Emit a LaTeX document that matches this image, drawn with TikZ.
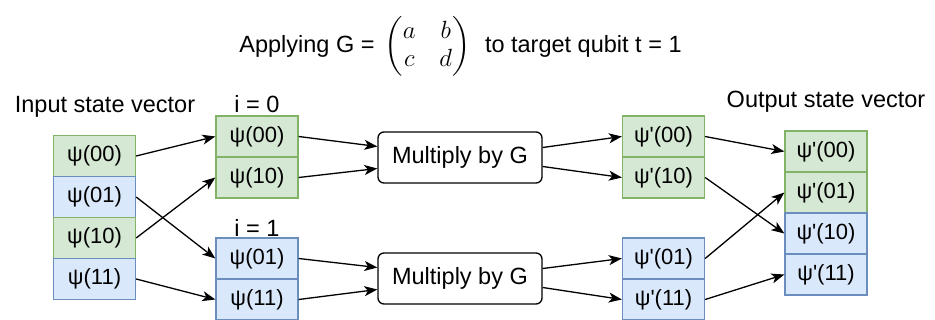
\documentclass[tikz,border=0pt]{standalone}
\usepackage{amsmath}
\usepackage{fontspec}
\newfontfamily\rawfont{Liberation Sans}
\usetikzlibrary{arrows.meta,calc}
\definecolor{gfill}{HTML}{D5E8D4}
\definecolor{gline}{HTML}{82B366}
\definecolor{bfill}{HTML}{DAE8FC}
\definecolor{bline}{HTML}{6C8EBF}
\tikzset{
  every node/.style={font=\rawfont\fontsize{23.5}{28}\selectfont},
  cell/.style={minimum width=82pt,minimum height=41pt,inner sep=0pt,line width=1.3pt,font=\rawfont\fontsize{22}{26}\selectfont},
  gcell/.style={cell,draw=gline,fill=gfill},
  bcell/.style={cell,draw=bline,fill=bfill},
  multbox/.style={draw,rounded corners=6pt,minimum width=164pt,minimum height=51pt,inner sep=0pt,line width=1.3pt},
  lbl/.style={inner sep=0pt,anchor=base},
  conn/.style={-{Stealth[length=13pt,width=10pt,inset=3.5pt]},line width=1.3pt}
}
\begin{document}
\begin{tikzpicture}[x=1pt,y=-1pt]
\useasboundingbox (0,0) rectangle (935,320);
% title
\node[lbl] (title) at (460.5,53) {Applying G =\hspace{10pt}$\begin{pmatrix}a & \;\; b\\ c & \;\; d\end{pmatrix}$\hspace{8pt} to target qubit t = 1};
% labels
\node[lbl] (inlbl) at (105,113) {Input state vector};
\node[lbl] (i0lbl) at (257,113) {i = 0};
\node[lbl] (i1lbl) at (257,237) {i = 1};
\node[lbl] (outlbl) at (826,108) {Output state vector};
% input
\node[gcell] (in00) at (94.5,156) {ψ(00)};
\node[bcell] (in01) at (94.5,197) {ψ(01)};
\node[gcell] (in10) at (94.5,238) {ψ(10)};
\node[bcell] (in11) at (94.5,279) {ψ(11)};
% groups
\node[gcell] (a00) at (257,136.5) {ψ(00)};
\node[gcell] (a10) at (257,177.5) {ψ(10)};
\node[bcell] (a01) at (257,258.5) {ψ(01)};
\node[bcell] (a11) at (257,299.5) {ψ(11)};
% multiply
\node[multbox] (m1) at (460,157.5) {Multiply by G};
\node[multbox] (m2) at (460,278.5) {Multiply by G};
% intermediate outputs
\node[gcell] (b00) at (663.5,136.5) {ψ'(00)};
\node[gcell] (b10) at (663.5,177.5) {ψ'(10)};
\node[bcell] (b01) at (663.5,258.5) {ψ'(01)};
\node[bcell] (b11) at (663.5,299.5) {ψ'(11)};
% final outputs
\node[gcell] (o00) at (826,151.5) {ψ'(00)};
\node[gcell] (o01) at (826,192.5) {ψ'(01)};
\node[bcell] (o10) at (826,233.5) {ψ'(10)};
\node[bcell] (o11) at (826,274.5) {ψ'(11)};
% connectors
\draw[conn] (in00.east) -- (a00.west);
\draw[conn] (in10.east) -- (a10.west);
\draw[conn] (in01.east) -- (a01.west);
\draw[conn] (in11.east) -- (a11.west);
\draw[conn] (a00.east) -- ($(m1.west)+(0,-11)$);
\draw[conn] (a10.east) -- ($(m1.west)+(0,11)$);
\draw[conn] (a01.east) -- ($(m2.west)+(0,-11)$);
\draw[conn] (a11.east) -- ($(m2.west)+(0,11)$);
\draw[conn] ($(m1.east)+(0,-10)$) -- (b00.west);
\draw[conn] ($(m1.east)+(0,9)$) -- (b10.west);
\draw[conn] ($(m2.east)+(0,-10)$) -- (b01.west);
\draw[conn] ($(m2.east)+(0,9)$) -- (b11.west);
\draw[conn] (b00.east) -- (o00.west);
\draw[conn] (b10.east) -- (o10.west);
\draw[conn] (b01.east) -- (o01.west);
\draw[conn] (b11.east) -- (o11.west);
\end{tikzpicture}
\end{document}
